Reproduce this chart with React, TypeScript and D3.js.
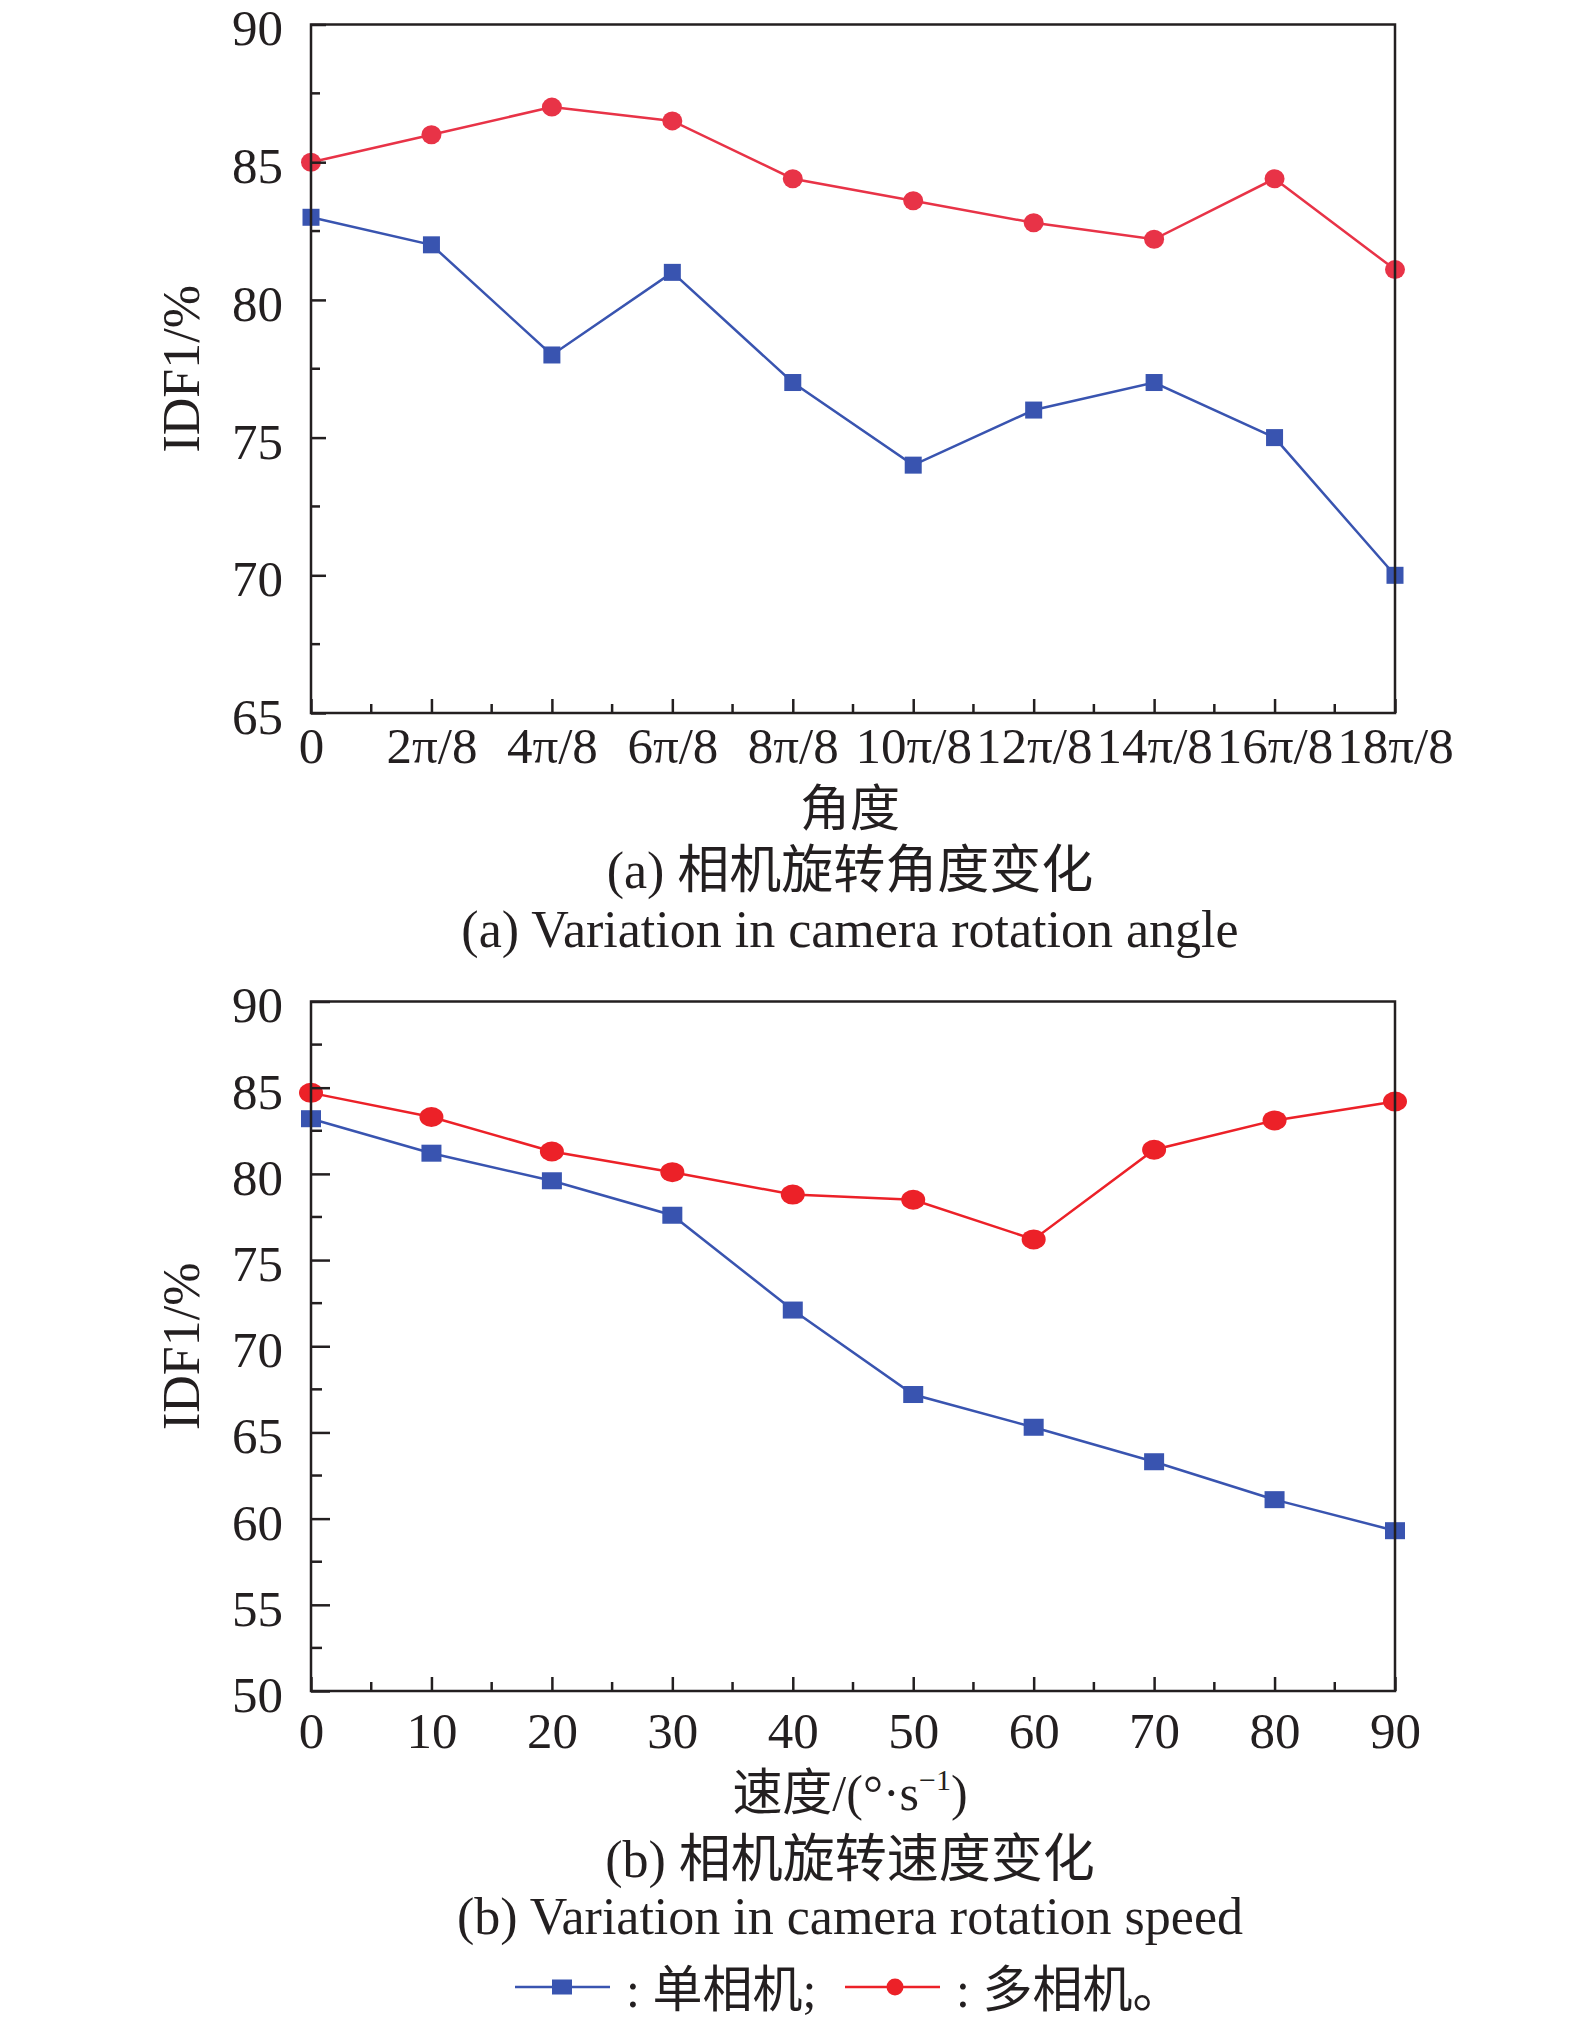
import { useEffect, useRef } from 'react';
import * as d3 from 'd3';

// (a) rotation angle
const angleLabels = ['0', '2π/8', '4π/8', '6π/8', '8π/8', '10π/8', '12π/8', '14π/8', '16π/8', '18π/8'];
const angleSingle = [83, 82, 78, 81, 77, 74, 76, 77, 75, 70];
const angleMulti = [85, 86, 87, 86.5, 84.4, 83.6, 82.8, 82.2, 84.4, 81.1];
const angleYTicks = [65, 70, 75, 80, 85, 90];

// (b) rotation speed
const speeds = [0, 10, 20, 30, 40, 50, 60, 70, 80, 90];
const speedSingle = [83.2, 81.2, 79.6, 77.6, 72.1, 67.2, 65.3, 63.3, 61.1, 59.3];
const speedMulti = [84.7, 83.3, 81.3, 80.1, 78.8, 78.5, 76.2, 81.4, 83.1, 84.2];
const speedYTicks = [50, 55, 60, 65, 70, 75, 80, 85, 90];

const W = 1575;
const H = 2018;
const FONT = "'Liberation Serif', 'Times New Roman', 'Noto Sans CJK SC', serif";
const INK = '#231f20';
const BLUE = '#3954b0';
const RED_A = '#e83347';
const RED_B = '#ec2128';

export default function App() {
  const svgRef = useRef<SVGSVGElement>(null);

  useEffect(() => {
    if (!svgRef.current) return;
    const svg = d3.select(svgRef.current);
    svg.selectAll('*').remove();

    const left = 311;
    const right = 1395;

    const xa = d3.scalePoint<string>().domain(angleLabels).range([left, right]);
    const ya = d3.scaleLinear().domain([65, 90]).range([713, 24.5]);
    const xb = d3.scaleLinear().domain([0, 90]).range([left, right]);
    const yb = d3.scaleLinear().domain([50, 90]).range([1691, 1001.5]);

    const styleText = (sel: any) =>
      sel.attr('fill', INK).attr('font-size', 51).attr('font-family', FONT);

    // ---- panel (a) data
    const ga = svg.append('g');
    const ptsA = (vals: number[]) => vals.map((v, i) => [xa(angleLabels[i])!, ya(v)] as [number, number]);
    const line = d3.line();

    ga.append('path').attr('d', line(ptsA(angleSingle))).attr('fill', 'none').attr('stroke', BLUE).attr('stroke-width', 2.5);
    ga.append('path').attr('d', line(ptsA(angleMulti))).attr('fill', 'none').attr('stroke', RED_A).attr('stroke-width', 2.5);
    ga.selectAll('rect.m').data(ptsA(angleSingle)).enter().append('rect')
      .attr('x', (d) => d[0] - 8.5).attr('y', (d) => d[1] - 8.5)
      .attr('width', 17).attr('height', 17).attr('fill', BLUE);
    ga.selectAll('circle.m').data(ptsA(angleMulti)).enter().append('ellipse')
      .attr('cx', (d) => d[0]).attr('cy', (d) => d[1])
      .attr('rx', 10).attr('ry', 9.5).attr('fill', RED_A);

    // ---- panel (b) data
    const gb = svg.append('g');
    const ptsB = (vals: number[]) => vals.map((v, i) => [xb(speeds[i]), yb(v)] as [number, number]);
    gb.append('path').attr('d', line(ptsB(speedSingle))).attr('fill', 'none').attr('stroke', BLUE).attr('stroke-width', 2.5);
    gb.append('path').attr('d', line(ptsB(speedMulti))).attr('fill', 'none').attr('stroke', RED_B).attr('stroke-width', 2.5);
    gb.selectAll('rect.m').data(ptsB(speedSingle)).enter().append('rect')
      .attr('x', (d) => d[0] - 10).attr('y', (d) => d[1] - 8.5)
      .attr('width', 20).attr('height', 17).attr('fill', BLUE);
    gb.selectAll('ellipse.m').data(ptsB(speedMulti)).enter().append('ellipse')
      .attr('cx', (d) => d[0]).attr('cy', (d) => d[1])
      .attr('rx', 12).attr('ry', 10).attr('fill', RED_B);

    // ---- axes
    const drawAxes = (
      g: any,
      x: any,
      y: any,
      yTicks: number[],
      xMinor: number[],
      yMajorLen: number,
      yMinorLen: number,
      xLabelOffset: number,
    ) => {
      const [y0, y1] = y.range();
      const bottom = y0;
      const top = y1;

      const yAxis = d3.axisLeft(y).tickValues(yTicks).tickSize(-yMajorLen).tickSizeOuter(0).tickPadding(28);
      const gy = g.append('g').attr('transform', `translate(${left},0)`).call(yAxis);
      gy.select('.domain').remove();
      gy.selectAll('line').attr('stroke', INK).attr('stroke-width', 2.5);
      styleText(gy.selectAll('text').attr('dy', '0.4em'));

      const xAxis = d3.axisBottom(x).tickSize(-14).tickSizeOuter(0);
      const gx = g.append('g').attr('transform', `translate(0,${bottom})`).call(xAxis);
      gx.select('.domain').remove();
      gx.selectAll('line').attr('stroke', INK).attr('stroke-width', 2.5);
      styleText(gx.selectAll('text').attr('y', xLabelOffset).attr('dy', 0));

      const yMinor = yTicks.slice(0, -1).map((t, i) => (t + yTicks[i + 1]) / 2);
      g.selectAll('line.ymin').data(yMinor).enter().append('line')
        .attr('x1', left).attr('x2', left + yMinorLen)
        .attr('y1', (d: number) => y(d)).attr('y2', (d: number) => y(d))
        .attr('stroke', INK).attr('stroke-width', 2.5);
      g.selectAll('line.xmin').data(xMinor).enter().append('line')
        .attr('x1', (d: number) => d).attr('x2', (d: number) => d)
        .attr('y1', bottom).attr('y2', bottom - 9)
        .attr('stroke', INK).attr('stroke-width', 2.5);

      g.append('rect')
        .attr('x', left).attr('y', top)
        .attr('width', right - left).attr('height', bottom - top)
        .attr('fill', 'none').attr('stroke', INK).attr('stroke-width', 2.5);
    };

    const aPos = angleLabels.map((l) => xa(l)!);
    const aMinor = aPos.slice(0, -1).map((p, i) => (p + aPos[i + 1]) / 2);
    drawAxes(svg.append('g'), xa, ya, angleYTicks, aMinor, 15, 9, 50);

    const bMinor = speeds.slice(0, -1).map((s) => xb(s + 5));
    drawAxes(svg.append('g'), xb, yb, speedYTicks, bMinor, 19, 11, 57);

    // ---- titles
    const cx = 850;
    const addText = (x: number, y: number, txt: string, size = 51) =>
      svg.append('text').attr('x', x).attr('y', y).attr('text-anchor', 'middle')
        .attr('fill', INK).attr('font-size', size).attr('font-family', FONT).text(txt);

    svg.append('text')
      .attr('transform', `translate(199,${(ya.range()[0] + ya.range()[1]) / 2}) rotate(-90)`)
      .attr('text-anchor', 'middle').attr('fill', INK).attr('font-size', 52).attr('font-family', FONT)
      .text('IDF1/%');
    svg.append('text')
      .attr('transform', `translate(199,${(yb.range()[0] + yb.range()[1]) / 2}) rotate(-90)`)
      .attr('text-anchor', 'middle').attr('fill', INK).attr('font-size', 52).attr('font-family', FONT)
      .text('IDF1/%');

    addText(cx, 826, '角度', 50);
    addText(cx, 888, '(a) 相机旋转角度变化', 52);
    addText(cx, 947, '(a) Variation in camera rotation angle', 52);

    const sp = svg.append('text').attr('x', cx).attr('y', 1810).attr('text-anchor', 'middle')
      .attr('fill', INK).attr('font-size', 50).attr('font-family', FONT);
    sp.append('tspan').text('速度/(°·s');
    sp.append('tspan').attr('dy', -20).attr('font-size', 30).text('−1');
    sp.append('tspan').attr('dy', 20).text(')');

    addText(cx, 1877, '(b) 相机旋转速度变化', 52);
    addText(cx, 1934, '(b) Variation in camera rotation speed', 52);

    // ---- legend
    const ly = 1987;
    const lg = svg.append('g');
    lg.append('line').attr('x1', 515).attr('x2', 610).attr('y1', ly).attr('y2', ly).attr('stroke', BLUE).attr('stroke-width', 2.5);
    lg.append('rect').attr('x', 552).attr('y', ly - 7.5).attr('width', 20).attr('height', 15).attr('fill', BLUE);
    lg.append('text').attr('x', 626).attr('y', 2007).attr('fill', INK).attr('font-size', 50).attr('font-family', FONT).text(': 单相机;');
    lg.append('line').attr('x1', 845).attr('x2', 940).attr('y1', ly).attr('y2', ly).attr('stroke', RED_B).attr('stroke-width', 2.5);
    lg.append('circle').attr('cx', 895).attr('cy', ly).attr('r', 8.5).attr('fill', RED_B);
    lg.append('text').attr('x', 956).attr('y', 2007).attr('fill', INK).attr('font-size', 50).attr('font-family', FONT).text(': 多相机。');
  }, []);

  return (
    <svg
      ref={svgRef}
      width={W}
      height={H}
      style={{ position: 'absolute', left: 0, top: 0, background: '#fff' }}
    />
  );
}
